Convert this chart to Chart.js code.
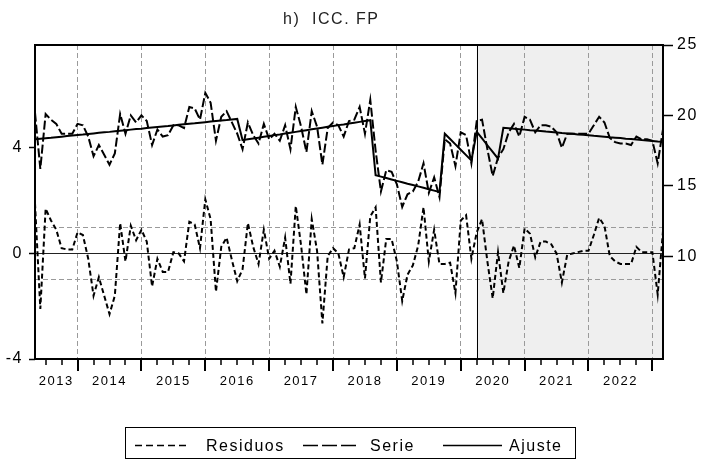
<!DOCTYPE html>
<html>
<head>
<meta charset="utf-8">
<script src="https://cdn.jsdelivr.net/npm/chart.js@4.4.0/dist/chart.umd.min.js"></script>
<style>
  html, body { margin: 0; padding: 0; background: #fff; }
</style>
</head>
<body>
<canvas id="chart" width="702" height="464"></canvas>
<script>
// monthly data, first point May 2013, last point March 2023
const yearLabels = ['2013', '2014', '2015', '2016', '2017', '2018', '2019', '2020', '2021', '2022'];
const firstJanIndex = 8;   // Jan 2014
const shadeFrom = 83;      // Apr 2020

const residuos = [
  1.9, -2.1, 1.7, 1.25, 0.9, 0.2, 0.15, 0.15, 0.8, 0.7,
  -0.2, -1.6, -0.9, -1.6, -2.3, -1.6, 1.15, -0.3, 1.05, 0.5,
  0.9, 0.45, -1.25, -0.2, -0.7, -0.7, 0.05, 0.0, -0.3, 1.2,
  1.1, 0.2, 2.05, 1.3, -1.45, 0.25, 0.6, -0.25, -1.05, -0.6,
  1.15, 0.25, -0.4, 0.9, -0.2, 0.1, -0.5, 0.6, -1.15, 1.8,
  0.3, -1.55, 1.3, 0.1, -2.65, -0.1, 0.2, 0.0, -0.9, 0.15,
  0.2, 1.1, -0.95, 1.4, 1.75, -1.1, 0.55, 0.55, -0.3, -1.8,
  -0.8, -0.45, 0.3, 1.75, -0.3, 0.9, -0.4, -0.4, -0.35, -1.5,
  1.25, 1.45, -0.2, 0.8, 1.3, -0.3, -1.7, 0.05, -1.5, -0.3,
  0.3, -0.55, 0.95, 0.75, -0.15, 0.45, 0.45, 0.35, 0.0, -1.1,
  -0.05, 0.0, 0.05, 0.1, 0.1, 0.7, 1.35, 1.05, -0.1, -0.3,
  -0.4, -0.4, -0.4, 0.25, 0.05, 0.05, 0.05, -1.55, 0.85
];

const serie = [
  20.2, 16.2, 20.1, 19.7, 19.4, 18.7, 18.7, 18.7, 19.4, 19.3,
  18.5, 17.1, 17.9, 17.2, 16.5, 17.3, 20.1, 18.7, 20.0, 19.5,
  20.0, 19.6, 17.9, 19.0, 18.5, 18.6, 19.3, 19.3, 19.1, 20.6,
  20.5, 19.7, 21.6, 20.9, 18.2, 19.9, 20.3, 19.5, 18.7, 17.6,
  19.5, 18.6, 18.0, 19.4, 18.3, 18.7, 18.2, 19.3, 17.6, 20.6,
  19.2, 17.4, 20.3, 19.2, 16.5, 19.1, 19.5, 19.3, 18.5, 19.6,
  19.7, 20.6, 18.7, 21.1, 17.5, 14.6, 16.1, 16.0, 15.1, 13.5,
  14.4, 14.6, 15.3, 16.6, 14.5, 15.6, 14.2, 18.3, 18.0, 16.4,
  18.8, 18.6, 16.6, 19.6, 19.7, 17.6, 15.7, 17.0, 17.6, 18.8,
  19.4, 18.5, 19.9, 19.7, 18.8, 19.3, 19.3, 19.2, 18.8, 17.7,
  18.7, 18.7, 18.7, 18.7, 18.7, 19.3, 19.9, 19.5, 18.4, 18.1,
  18.0, 18.0, 17.9, 18.5, 18.3, 18.3, 18.2, 16.6, 19.0
];

const ajuste = [
  18.30, 18.34, 18.38, 18.41, 18.45, 18.49, 18.53, 18.57, 18.61, 18.64,
  18.68, 18.72, 18.76, 18.80, 18.83, 18.87, 18.91, 18.95, 18.99, 19.03,
  19.06, 19.10, 19.14, 19.18, 19.22, 19.25, 19.29, 19.33, 19.37, 19.41,
  19.44, 19.48, 19.52, 19.56, 19.60, 19.64, 19.67, 19.71, 19.75, 18.24,
  18.30, 18.36, 18.42, 18.48, 18.54, 18.60, 18.65, 18.71, 18.77, 18.83,
  18.89, 18.95, 19.01, 19.07, 19.13, 19.19, 19.25, 19.31, 19.36, 19.42,
  19.48, 19.54, 19.60, 19.66, 15.75, 15.65, 15.55, 15.45, 15.35, 15.25,
  15.15, 15.06, 14.96, 14.86, 14.76, 14.66, 14.56, 18.70, 18.32, 17.94,
  17.56, 17.18, 16.80, 18.83, 18.36, 17.88, 17.41, 16.93, 19.12, 19.09,
  19.05, 19.02, 18.99, 18.95, 18.92, 18.89, 18.85, 18.82, 18.79, 18.75,
  18.72, 18.69, 18.65, 18.62, 18.59, 18.55, 18.52, 18.49, 18.45, 18.42,
  18.39, 18.35, 18.32, 18.29, 18.25, 18.22, 18.19, 18.15, 18.12
];

const leftTicks = [-4, 0, 4];
const bandLines = [-1, 0, 1];
const rightTicks = [10, 15, 20, 25];

const lastIndex = residuos.length - 1;
const yearStarts = [];
for (let i = firstJanIndex; i <= lastIndex; i += 12) yearStarts.push(i);

const FONT = '"Liberation Sans", Arial, sans-serif';
const toXY = arr => arr.map((v, i) => ({ x: i, y: v }));

const decor = {
    id: 'decor',
    beforeDraw(chart) {
        const { ctx, chartArea: a, scales: { x } } = chart;
        const xs = x.getPixelForValue(shadeFrom);
        ctx.save();
        ctx.fillStyle = '#efefef';
        ctx.fillRect(xs, a.top, a.right - xs, a.bottom - a.top);
        ctx.restore();
        ctx.letterSpacing = '1.5px';
    },
    beforeDatasetsDraw(chart) {
        const { ctx, chartArea: a, scales: { x } } = chart;
        const xs = Math.round(x.getPixelForValue(shadeFrom)) + 0.5;
        ctx.save();
        ctx.strokeStyle = '#000';
        ctx.lineWidth = 1;
        ctx.beginPath();
        ctx.moveTo(xs, a.top);
        ctx.lineTo(xs, a.bottom);
        ctx.stroke();
        ctx.restore();
    },
    afterDraw(chart) {
        const { ctx, chartArea: a, scales: { x } } = chart;
        ctx.save();
        ctx.letterSpacing = '1.5px';

        // frame
        ctx.strokeStyle = '#000';
        ctx.lineWidth = 2;
        ctx.strokeRect(a.left, a.top, a.right - a.left, a.bottom - a.top);

        // quarter and year tick marks
        for (let i = firstJanIndex - 6; i <= lastIndex; i += 3) {
            if (i < 0) continue;
            const px = Math.round(x.getPixelForValue(i));
            const major = (i - firstJanIndex) % 12 === 0;
            ctx.lineWidth = major ? 2 : 1.5;
            ctx.beginPath();
            ctx.moveTo(px, a.bottom);
            ctx.lineTo(px, a.bottom + (major ? 12 : 6));
            ctx.stroke();
        }

        // year labels centred on the visible part of each year
        ctx.fillStyle = '#000';
        ctx.font = '13px ' + FONT;
        ctx.textAlign = 'center';
        ctx.textBaseline = 'middle';
        yearLabels.forEach((lab, k) => {
            const s = Math.max(0, firstJanIndex + 12 * (k - 1));
            const e = Math.min(lastIndex, firstJanIndex + 12 * k);
            ctx.fillText(lab, x.getPixelForValue((s + e) / 2), 381);
        });

        // title
        ctx.fillStyle = '#222';
        ctx.font = '16px ' + FONT;
        ctx.textAlign = 'left';
        ctx.textBaseline = 'alphabetic';
        ctx.fillText('h)  ICC. FP', 283, 24);

        // legend
        ctx.lineWidth = 1;
        ctx.strokeRect(125.5, 427.5, 450, 31);
        const ly = 445.5;
        const items = [
            { x0: 135, x1: 188, tx: 206, dash: [7, 4], text: 'Residuos' },
            { x0: 303, x1: 357, tx: 370, dash: [15, 4], text: 'Serie' },
            { x0: 443, x1: 502, tx: 509, dash: [], text: 'Ajuste' }
        ];
        items.forEach(it => {
            ctx.lineWidth = 1.5;
            ctx.setLineDash(it.dash);
            ctx.beginPath();
            ctx.moveTo(it.x0, ly);
            ctx.lineTo(it.x1, ly);
            ctx.stroke();
            ctx.setLineDash([]);
            ctx.fillStyle = '#000';
            ctx.fillText(it.text, it.tx, 451);
        });
        ctx.restore();
    }
};

new Chart(document.getElementById('chart'), {
    type: 'line',
    data: {
        datasets: [
            {
                label: 'Residuos',
                data: toXY(residuos),
                yAxisID: 'y',
                borderColor: '#000',
                borderWidth: 2,
                borderDash: [5, 3],
                pointRadius: 0,
                tension: 0
            },
            {
                label: 'Serie',
                data: toXY(serie),
                yAxisID: 'y1',
                borderColor: '#000',
                borderWidth: 2,
                borderDash: [9, 3],
                pointRadius: 0,
                tension: 0
            },
            {
                label: 'Ajuste',
                data: toXY(ajuste),
                yAxisID: 'y1',
                borderColor: '#000',
                borderWidth: 2,
                pointRadius: 0,
                tension: 0
            }
        ]
    },
    options: {
        responsive: false,
        animation: false,
        layout: { padding: { top: 45, bottom: 105, left: 0, right: 0 } },
        plugins: {
            legend: { display: false },
            tooltip: { enabled: false },
            title: { display: false }
        },
        scales: {
            x: {
                type: 'linear',
                min: 0,
                max: lastIndex,
                afterBuildTicks: s => { s.ticks = yearStarts.map(v => ({ value: v })); },
                ticks: { display: false },
                grid: { color: '#9a9a9a', lineWidth: 1, drawTicks: false },
                border: { display: false, dash: [5, 3] }
            },
            y: {
                position: 'left',
                min: -4,
                max: 7.9,
                afterBuildTicks: s => { s.ticks = [-4, -1, 0, 1, 4].map(v => ({ value: v })); },
                afterFit: s => { s.width = 35; },
                ticks: {
                    callback: v => leftTicks.includes(v) ? String(v) : '',
                    padding: 6,
                    color: '#000',
                    font: { family: FONT, size: 16 }
                },
                grid: {
                    color: c => {
                        if (!c.tick) return 'rgba(0,0,0,0)';
                        if (c.tick.value === 0) return '#222';
                        return bandLines.includes(c.tick.value) ? '#9a9a9a' : 'rgba(0,0,0,0)';
                    },
                    tickColor: c => (c.tick && leftTicks.includes(c.tick.value)) ? '#000' : 'rgba(0,0,0,0)',
                    tickLength: 6,
                    tickWidth: 1.5,
                    lineWidth: 1
                },
                border: {
                    display: false,
                    dash: c => (c.tick && c.tick.value === 0) ? [] : [5, 3]
                }
            },
            y1: {
                position: 'right',
                min: 2.7,
                max: 25,
                afterBuildTicks: s => { s.ticks = rightTicks.map(v => ({ value: v })); },
                afterFit: s => { s.width = 39; },
                ticks: {
                    padding: 4,
                    color: '#000',
                    font: { family: FONT, size: 16 }
                },
                grid: {
                    drawOnChartArea: false,
                    tickColor: '#000',
                    tickLength: 10,
                    tickWidth: 1.5
                },
                border: { display: false }
            }
        }
    },
    plugins: [decor]
});
</script>
</body>
</html>
